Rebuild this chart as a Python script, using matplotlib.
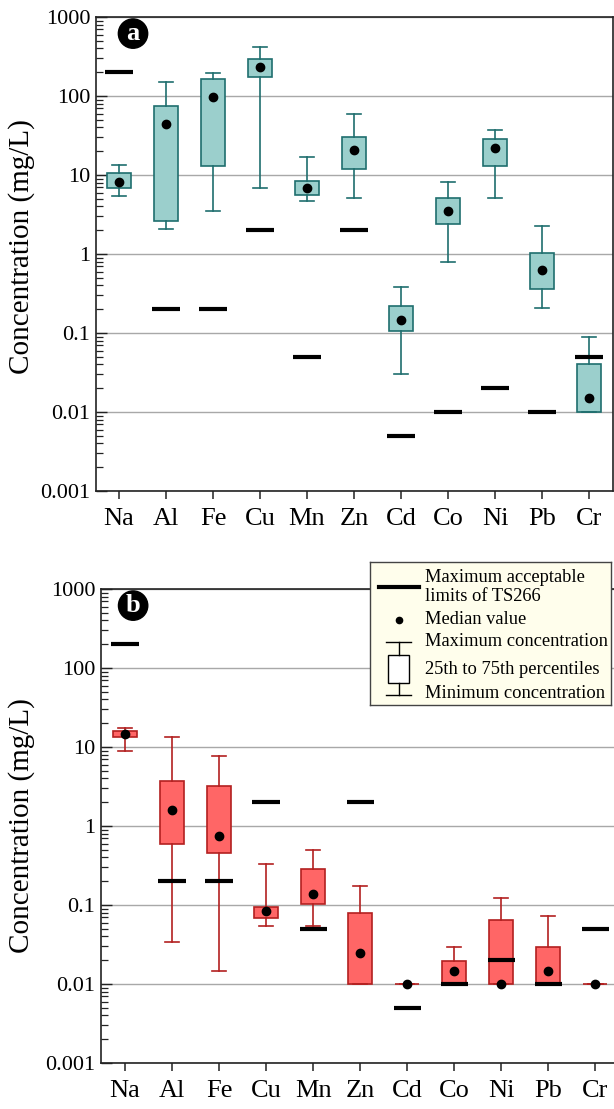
import matplotlib
matplotlib.use("Agg")
import matplotlib.pyplot as plt
from matplotlib.patches import Rectangle
from matplotlib.ticker import LogLocator, FixedLocator, FixedFormatter, NullFormatter

plt.rcParams['font.family'] = ['Liberation Serif', 'DejaVu Serif']

# ---- data -------------------------------------------------------------
elements = ['Na', 'Al', 'Fe', 'Cu', 'Mn', 'Zn', 'Cd', 'Co', 'Ni', 'Pb', 'Cr']
ts266_limit = [200, 0.2, 0.2, 2, 0.05, 2, 0.005, 0.01, 0.02, 0.01, 0.05]

a_min = [5.5, 2.1, 3.5, 6.9, 4.7, 5.1, 0.030, 0.80, 5.1, 0.21, 0.01]
a_q1 = [6.9, 2.6, 13.1, 175, 5.6, 11.9, 0.105, 2.4, 13.1, 0.36, 0.01]
a_med = [8.1, 44, 97, 233, 6.9, 20.6, 0.145, 3.5, 21.8, 0.62, 0.015]
a_q3 = [10.5, 75, 163, 297, 8.4, 30, 0.22, 5.1, 28.3, 1.02, 0.04]
a_max = [13.5, 150, 194, 417, 16.7, 60, 0.378, 8.1, 37.4, 2.24, 0.09]

b_min = [9.0, 0.034, 0.0146, 0.054, 0.054, 0.01, 0.01, 0.01, 0.01, 0.01, 0.01]
b_q1 = [13.5, 0.59, 0.45, 0.068, 0.102, 0.01, 0.01, 0.01, 0.01, 0.01, 0.01]
b_med = [14.7, 1.6, 0.75, 0.083, 0.136, 0.0247, 0.01, 0.0147, 0.01, 0.0147, 0.01]
b_q3 = [16, 3.7, 3.2, 0.095, 0.286, 0.0785, 0.01, 0.0197, 0.0646, 0.0296, 0.01]
b_max = [17.5, 13.5, 7.8, 0.333, 0.5, 0.175, 0.01, 0.0294, 0.123, 0.073, 0.01]

y_ticks = [0.001, 0.01, 0.1, 1, 10, 100, 1000]
y_tick_labels = ['0.001', '0.01', '0.1', '1', '10', '100', '1000']

W, H = 614, 1109
fig = plt.figure(figsize=(W / 100, H / 100), dpi=100)


def px_axes(left, top, right, bottom):
    return fig.add_axes([left / W, 1 - bottom / H, (right - left) / W, (bottom - top) / H])


def draw_panel(ax, mins, q1s, meds, q3s, maxs, face, edge, tag, xlim, ylabel_xy, tag_x):
    stats = []
    for lo, q1, md, q3, hi in zip(mins, q1s, meds, q3s, maxs):
        stats.append(dict(whislo=lo, q1=q1, med=md, q3=q3, whishi=hi, fliers=[]))
    pos = list(range(len(elements)))
    ax.bxp(stats, positions=pos, widths=0.51, patch_artist=True,
           showfliers=False,
           boxprops=dict(facecolor=face, edgecolor=edge, linewidth=1.2),
           whiskerprops=dict(color=edge, linewidth=1.2),
           capprops=dict(color=edge, linewidth=1.2),
           medianprops=dict(visible=False),
           capwidths=0.3, zorder=3)
    ax.hlines(ts266_limit, [p - 0.29 for p in pos], [p + 0.29 for p in pos],
              colors='black', linewidth=3.0, zorder=4)
    ax.plot(pos, meds, 'o', color='black', markersize=6, zorder=5)

    ax.set_yscale('log')
    ax.set_ylim(0.001, 1000)
    ax.set_xlim(*xlim)
    ax.yaxis.set_major_locator(FixedLocator(y_ticks))
    ax.yaxis.set_major_formatter(FixedFormatter(y_tick_labels))
    ax.yaxis.set_minor_locator(LogLocator(base=10, subs=range(2, 10), numticks=20))
    ax.yaxis.set_minor_formatter(NullFormatter())
    ax.set_xticks(pos)
    ax.set_xticklabels(elements)
    ax.tick_params(axis='y', which='major', direction='in', length=8, width=1.0,
                   labelsize=16, pad=4, color='#222222')
    ax.tick_params(axis='y', which='minor', direction='in', length=5, width=0.9,
                   color='#222222')
    ax.tick_params(axis='x', direction='out', length=6, width=1.1, labelsize=19,
                   pad=6, color='#222222')
    ax.grid(axis='y', which='major', color='#a8a8a8', linewidth=1.0, zorder=0)
    ax.set_axisbelow(True)
    for s in ax.spines.values():
        s.set_color('#222222')
        s.set_linewidth(1.2)
    ax.set_ylabel('Concentration (mg/L)', fontsize=21)
    ax.yaxis.set_label_coords(*ylabel_xy)
    ax.text(tag_x, 0.965, tag, transform=ax.transAxes,
            ha='center', va='center', color='white', fontsize=19, fontweight='bold',
            bbox=dict(boxstyle='circle,pad=0.12', fc='black', ec='black'), zorder=6)


ax_a = px_axes(96, 17, 613, 491)
draw_panel(ax_a, a_min, a_q1, a_med, a_q3, a_max, '#9bcfcc', '#1f6e6e', 'a',
           (-0.49, 10.51), (-0.118, 0.515), 0.0716)

ax_b = px_axes(101, 589, 619, 1063)
draw_panel(ax_b, b_min, b_q1, b_med, b_q3, b_max, '#ff6666', '#b32020', 'b',
           (-0.51, 10.5), (-0.127, 0.5), 0.062)

# ---- key --------------------------------------------------------------
lg = px_axes(370, 562, 611, 705)
lg.set_xlim(0, 241)
lg.set_ylim(143, 0)
lg.set_xticks([])
lg.set_yticks([])
lg.set_facecolor('#fffeec')
for s in lg.spines.values():
    s.set_color('#444444')
    s.set_linewidth(1.0)
lg.plot([9, 49], [25, 25], color='black', linewidth=3.0)
lg.plot([29], [58], 'o', color='black', markersize=4.5)
lg.plot([16, 41], [80, 80], color='black', linewidth=1.0)
lg.plot([28.5, 28.5], [80, 93], color='black', linewidth=1.0)
lg.add_patch(Rectangle((18, 93), 21, 28, facecolor='white', edgecolor='black', linewidth=1.0))
lg.plot([28.5, 28.5], [121, 133], color='black', linewidth=1.0)
lg.plot([16, 41], [133, 133], color='black', linewidth=1.0)
fs = 13.3
lg.text(55, 25, 'Maximum acceptable\nlimits of TS266', fontsize=fs, va='center',
        linespacing=1.15)
lg.text(55, 58, 'Median value', fontsize=fs, va='center')
lg.text(55, 80, 'Maximum concentration', fontsize=fs, va='center')
lg.text(55, 107, '25th to 75th percentiles', fontsize=fs, va='center')
lg.text(55, 132, 'Minimum concentration', fontsize=fs, va='center')

fig.savefig('out.png', dpi=100)
